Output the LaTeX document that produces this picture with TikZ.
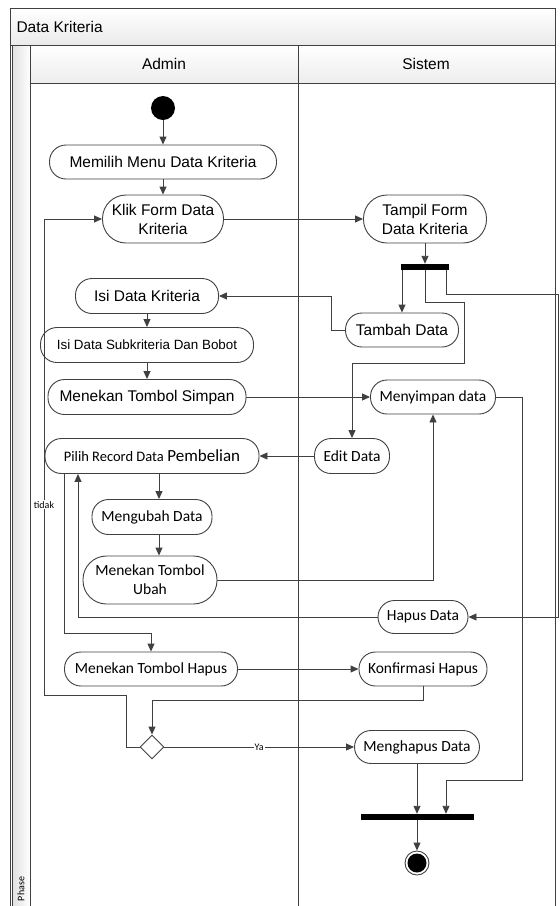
\documentclass[tikz,border=0pt]{standalone}
\usepackage{fontspec}
\setmainfont{Liberation Sans}
\newfontfamily\calib{Carlito}
\usetikzlibrary{arrows.meta,shapes.geometric}

\tikzset{
  garis/.style={draw=black!75, line width=0.9pt},
  aksi/.style={rectangle, rounded corners=16.5pt, draw=black!75, line width=0.9pt, fill=white,
    inner sep=2pt, minimum height=34pt, align=center, font=\fontsize{15.5}{19}\selectfont},
  aksidua/.style={aksi, rounded corners=23.5pt, minimum height=48pt},
  aksic/.style={aksi, font=\calib\fontsize{15.5}{19}\selectfont},
  palang/.style={rectangle, fill=black, inner sep=0pt, minimum height=6pt},
  alur/.style={draw=black!75, line width=0.9pt, -{Triangle[length=8pt,width=7pt]}},
  ket/.style={fill=white, inner sep=1pt, font=\calib\fontsize{10}{12}\selectfont},
}

\begin{document}
\begin{tikzpicture}[x=1pt,y=-1pt]
\useasboundingbox (0,0) rectangle (560,906);
\clip (0,0) rectangle (560,906);
% bingkai dan judul
\shade[top color=white,bottom color=black!8] (10.5,8) rectangle (555,45);
\shade[left color=black!12,right color=white] (12.5,45) rectangle (30,920);
\shade[top color=white,bottom color=black!7] (30,45) rectangle (555,83);
\draw[garis] (10.5,8) rectangle (555,920);
\draw[garis] (10.5,45) -- (555,45) (12.5,45) -- (12.5,920) (30,45) -- (30,920);
\draw[garis] (30,83) -- (555,83) (298,45) -- (298,920);
\node[anchor=west, font=\fontsize{15.5}{19}\selectfont] (judul) at (13,27) {Data Kriteria};
\node[font=\fontsize{15.5}{19}\selectfont] (admin) at (164,64) {Admin};
\node[font=\fontsize{15.5}{19}\selectfont] (sistem) at (426,64) {Sistem};
\node[rotate=90, font=\calib\fontsize{10}{12}\selectfont] (fase) at (21,889) {Phase};
% aktivitas
\node[circle, fill=black, minimum size=24pt, inner sep=0pt] (mulai) at (163,108) {};
\node[aksi, minimum width=227pt] (pilihmenu) at (163,162) {Memilih Menu Data Kriteria};
\node[aksidua, minimum width=121pt] (klikform) at (163,219) {Klik Form Data\\Kriteria};
\node[aksidua, minimum width=123pt] (tampilform) at (425,219) {Tampil Form\\Data Kriteria};
\node[palang, minimum width=48pt] (forkA) at (425,267) {};
\node[aksi, minimum width=143pt, minimum height=35pt] (isikrit) at (147,296) {Isi Data Kriteria};
\node[aksi, minimum width=113pt] (tambah) at (402,330) {Tambah Data};
\node[aksi, minimum width=213pt, minimum height=35pt, font=\fontsize{13.4}{16}\selectfont] (isisub) at (147,345) {Isi Data Subkriteria Dan Bobot};
\node[aksi, minimum width=198pt, minimum height=35pt] (simpan) at (147,397) {Menekan Tombol Simpan};
\node[aksic, minimum width=125pt] (menyimpan) at (433,397) {Menyimpan data};
\node[aksic, minimum width=214pt, minimum height=35pt] (pilihrec) at (152,456)
  {{\fontsize{14.5}{17}\selectfont Pilih Record Data} {\fontsize{17}{20}\selectfont Pembelian}};
\node[aksic, minimum width=75pt, minimum height=35pt] (edit) at (352,456) {Edit Data};
\node[aksic, minimum width=120pt, minimum height=35pt] (mengubah) at (152,517) {Mengubah Data};
\node[aksidua, minimum width=134pt, font=\calib\fontsize{15.5}{19}\selectfont] (tombolubah) at (150,580) {Menekan Tombol\\Ubah};
\node[aksic, minimum width=90pt, minimum height=33pt] (hapus) at (423,617) {Hapus Data};
\node[aksic, minimum width=173pt] (tombolhapus) at (151,669) {Menekan Tombol Hapus};
\node[aksic, minimum width=128pt] (konfirmasi) at (423,669) {Konfirmasi Hapus};
\node[diamond, draw=black!75, line width=0.9pt, fill=white, minimum width=24pt, minimum height=24pt, inner sep=0pt] (cek) at (152,747) {};
\node[aksic, minimum width=125pt, minimum height=33pt] (menghapus) at (417,747) {Menghapus Data};
\node[palang, minimum width=113pt] (joinB) at (417,817) {};
\node[circle, draw=black!75, line width=0.9pt, fill=white, minimum size=24pt, inner sep=0pt] (selesai) at (417,863) {};
\fill (selesai) circle[radius=9.5];
% alur
\draw[alur] (mulai) -- (pilihmenu);
\draw[alur] (pilihmenu) -- (klikform);
\draw[alur] (klikform) -- (tampilform);
\draw[alur] (tampilform) -- (forkA);
\draw[alur] (forkA.south -| tambah.north) -- (tambah.north);
\draw[alur] (forkA.south) |- (464,302) -- (464,363) -| (edit.north);
\draw[alur] ([xshift=-3pt]forkA.south east) |- (558,294) |- (hapus.east);
\draw[alur] (tambah.west) -- ++(-14,0) |- (isikrit.east);
\draw[alur] (isikrit) -- (isisub);
\draw[alur] (isisub) -- (simpan);
\draw[alur] (simpan) -- (menyimpan);
\draw[alur] (menyimpan.east) -| (522,780) -| ([xshift=29pt]joinB.north);
\draw[alur] (edit) -- (pilihrec);
\draw[alur] ([xshift=7pt]pilihrec.south) -- ([xshift=7pt]mengubah.north);
\draw[alur] ([xshift=7pt]mengubah.south) -- ([xshift=9pt]tombolubah.north);
\draw[alur] (tombolubah.east) -| (menyimpan.south);
\draw[alur] (hapus.west) -| ([xshift=-74pt]pilihrec.south);
\draw[alur] ([xshift=-88pt]pilihrec.south) -- ++(0,159) -| (tombolhapus.north);
\draw[alur] (tombolhapus) -- (konfirmasi);
\draw[alur] (konfirmasi.south) -- ++(0,14) -| (cek.north);
\draw[alur] (cek.west) -| (126,695) -- (44,695) |- node[ket, pos=0.2]{tidak} (klikform.west);
\draw[alur] (cek.east) -- node[ket]{Ya} (menghapus.west);
\draw[alur] (menghapus) -- (joinB);
\draw[alur] (joinB) -- (selesai);
\end{tikzpicture}
\end{document}
